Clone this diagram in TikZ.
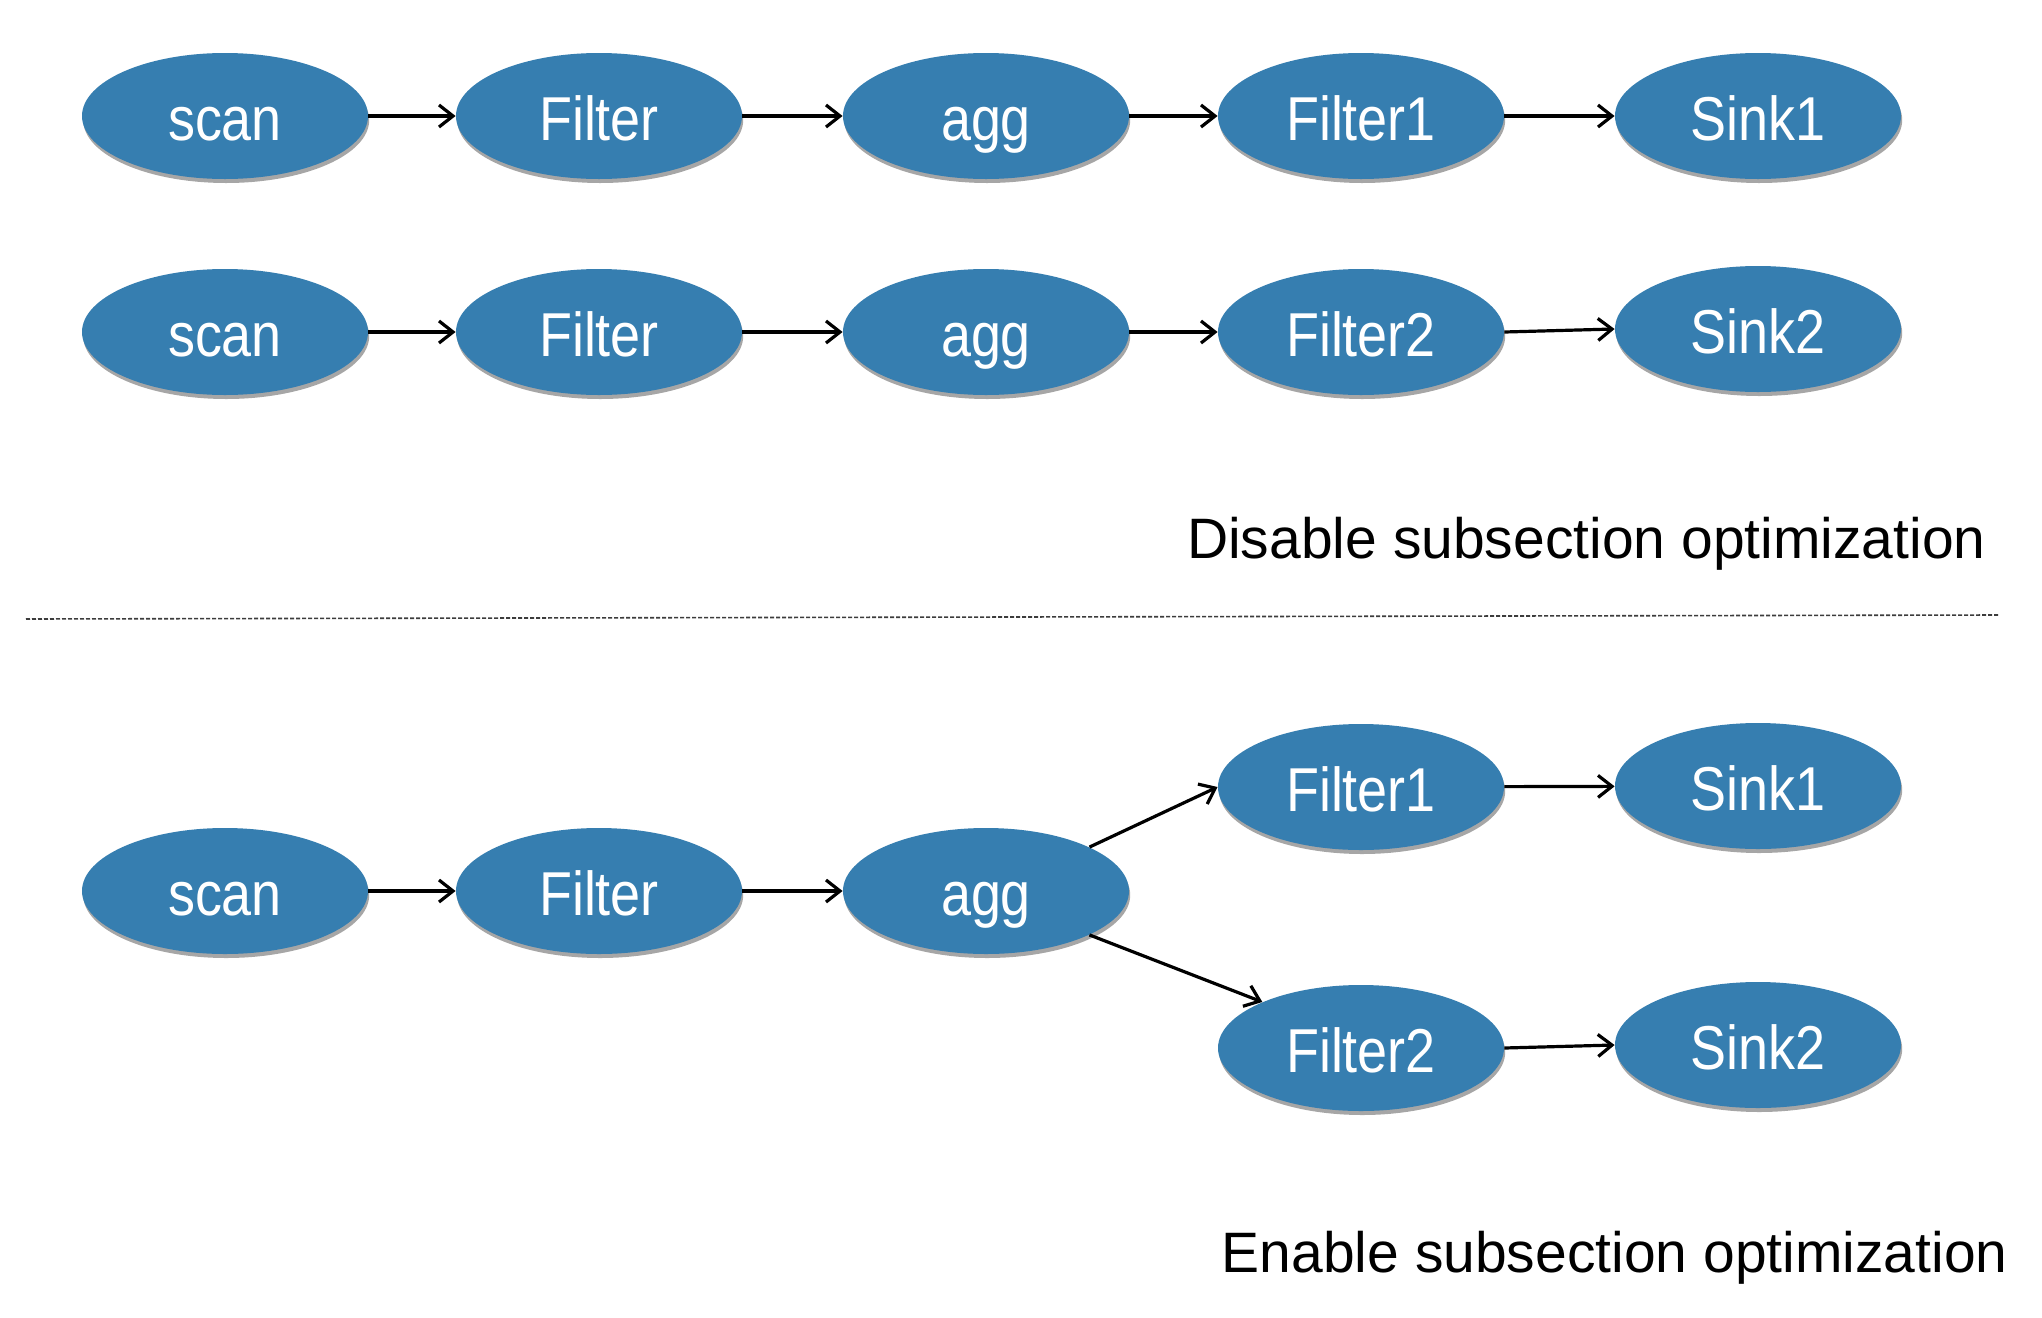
\documentclass[tikz,border=0pt]{standalone}
\usepackage{fontspec}
\setmainfont{Liberation Sans}
\newfontfamily\opfont[FakeStretch=0.87]{Liberation Sans}
\usetikzlibrary{arrows.meta,shapes.geometric,shadows}
\definecolor{nodeblue}{RGB}{54,126,176}
\definecolor{sepgray}{RGB}{60,60,60}
\begin{document}
\begin{tikzpicture}[x=0.5pt,y=-0.5pt,
  op/.style={ellipse, fill=nodeblue, minimum width=143pt, minimum height=63pt, inner sep=0pt,
    text=white, font=\opfont\fontsize{31}{31}\selectfont, text height=24pt, text depth=0pt,
    drop shadow={shadow xshift=0.6pt, shadow yshift=-2pt, opacity=0.35, fill=black}},
  flow/.style={-{Straight Barb[length=7pt,width=11pt]}, line width=1.6pt},
  caption/.style={font=\fontsize{28.5}{30}\selectfont, anchor=east, inner sep=0pt},
  sep/.style={draw=sepgray, line width=0.8pt, dash pattern=on 2pt off 1pt}]
\useasboundingbox[fill=white] (0,0) rectangle (2042,1318);
% row 1
\node[op] (s1) at (225,116) {scan};
\node[op] (f1) at (599,116) {Filter};
\node[op] (a1) at (986,116) {agg};
\node[op] (fa1) at (1361,116) {Filter1};
\node[op] (k1) at (1758,116) {Sink1};
% row 2
\node[op] (s2) at (225,332) {scan};
\node[op] (f2) at (599,332) {Filter};
\node[op] (a2) at (986,332) {agg};
\node[op] (fb2) at (1361,332) {Filter2};
\node[op] (k2) at (1758,329) {Sink2};
% bottom
\node[op] (s3) at (225,891) {scan};
\node[op] (f3) at (599,891) {Filter};
\node[op] (a3) at (986,891) {agg};
\node[op] (fa3) at (1361,787) {Filter1};
\node[op] (ka3) at (1758,786) {Sink1};
\node[op] (fb3) at (1361,1048) {Filter2};
\node[op] (kb3) at (1758,1045) {Sink2};
% arrows
\draw[flow] (s1) -- (f1);
\draw[flow] (f1) -- (a1);
\draw[flow] (a1) -- (fa1);
\draw[flow] (fa1) -- (k1);
\draw[flow] (s2) -- (f2);
\draw[flow] (f2) -- (a2);
\draw[flow] (a2) -- (fb2);
\draw[flow] (fb2.east) -- (k2.west);
\draw[flow] (s3) -- (f3);
\draw[flow] (f3) -- (a3);
\draw[flow] (a3.23) -- (fa3.west);
\draw[flow] (a3.-23) -- (fb3.155);
\draw[flow] (fa3) -- (ka3);
\draw[flow] (fb3.east) -- (kb3.west);
% separator
\coordinate (sl) at (26,619);
\coordinate (sr) at (1999,615);
\draw[sep] (sl) -- (sr);
% captions
\node[caption] (dis) at (1986,544) {Disable subsection optimization};
\node[caption] (ena) at (2008,1258) {Enable subsection optimization};
\end{tikzpicture}
\end{document}
